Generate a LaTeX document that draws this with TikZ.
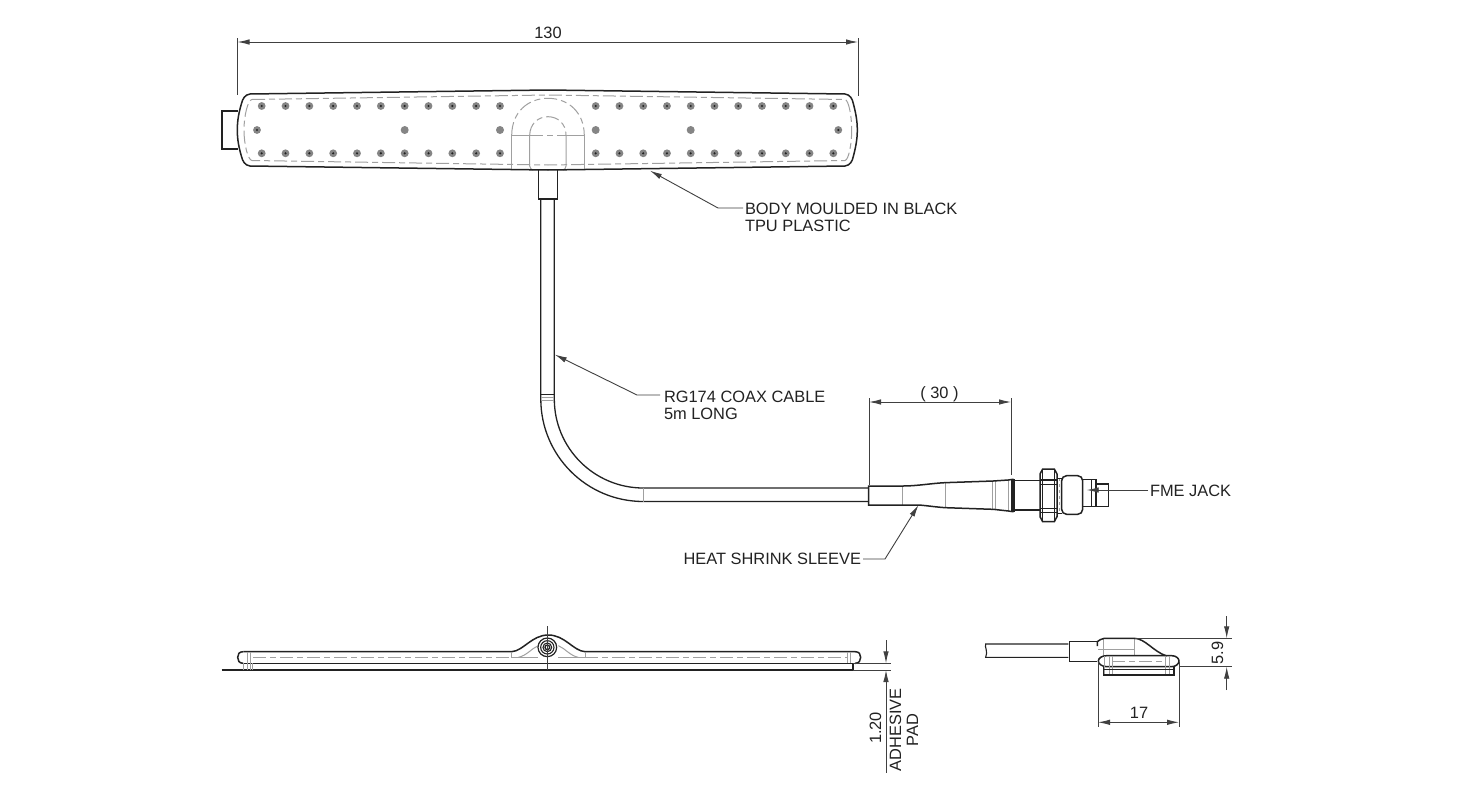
\documentclass[tikz,border=0pt]{standalone}
\usepackage{fontspec}
\setmainfont{Liberation Sans}
\usetikzlibrary{arrows.meta,calc}
\definecolor{ink}{HTML}{222222}
\definecolor{soft}{HTML}{A0A0A0}
\definecolor{dimc}{HTML}{404040}
\definecolor{dotc}{HTML}{858585}
\tikzset{
  lbl/.style={font=\fontsize{16.4}{17}\selectfont,text=ink,inner sep=0pt,outer sep=0pt,align=left},
  outline/.style={draw=ink,line width=1.5pt},
  thin line/.style={draw=ink,line width=1.1pt},
  hidden/.style={draw=soft,line width=1pt,dash pattern=on 13pt off 4pt on 6pt off 4pt},
  faint/.style={draw=soft,line width=1pt},
  ext/.style={draw=dimc,line width=0.9pt},
  dimarrow/.style={ext,{Latex[length=12pt,width=5.5pt]}-{Latex[length=12pt,width=5.5pt]}},
  onearrow/.style={ext,-{Latex[length=12pt,width=5.5pt]}},
  zoomed/.style={x=0.33333pt,y=-0.33333pt},
}
\begin{document}
\begin{tikzpicture}[x=1pt,y=-1pt]
\useasboundingbox (0,0) rectangle (1476,806);
\fill[white] (0,0) rectangle (1476,806);

% ---- plan view body
\draw[thin line] (237.6,111) -- (222,111) -- (222,149) -- (237.6,149);
\draw[faint] (511.7,135) -- (511.7,170) (584.3,135) -- (584.3,170);
\draw[faint] (529.7,135) -- (529.7,166) .. controls (530,168) and (531,169.5) .. (533,170);
\draw[faint] (566,135) -- (566,166) .. controls (565.7,168) and (565,169.5) .. (563,170);
\draw[faint] (511.7,135) -- (529.7,135) (566,135) -- (584.3,135);
\draw[hidden] (530,135) -- (566,135);
\draw[hidden] (511.7,135) .. controls (512,112) and (528,98.3) .. (548,98.3) .. controls (568,98.3) and (584,112) .. (584.3,135);
\draw[hidden] (529.7,135) .. controls (530,124) and (538,116.7) .. (548,116.7) .. controls (558,116.7) and (566,124) .. (566,135);
\draw[hidden] (252,99.5) -- (548,95) -- (845,99.5) .. controls (848.5,100) and (851.7,115) .. (851.7,130)
   .. controls (851.7,145) and (848.5,160) .. (845,160.5) -- (548,165) -- (252,160.5)
   .. controls (248,160) and (244,145) .. (244,130) .. controls (244,115) and (248,100) .. (252,99.5);
\draw[outline] (250,94) -- (548,90) -- (845,94) .. controls (850,94.5) and (852.5,99) .. (853.3,103.5)
   .. controls (855.5,112) and (857.3,120) .. (857.3,130) .. controls (857.3,140) and (855.5,148) .. (853.3,156.5)
   .. controls (852.5,161) and (850,165.5) .. (845,166) -- (548,170) -- (250,166)
   .. controls (245,165.5) and (242.5,161) .. (241.5,156.5) .. controls (239,148) and (237.3,140) .. (237.3,130)
   .. controls (237.3,120) and (239,112) .. (241.5,103.5) .. controls (242.5,99) and (245,94.5) .. (250,94) -- cycle;
% dots
\foreach \n in {0,...,10}{
  \foreach \y in {106,153.3}{
    \fill[dotc] ({261.7+23.83*\n},\y) circle (3.9);
    \fill[ink] ({261.7+23.83*\n},\y) circle (1.2);
    \fill[dotc] ({595.7+23.76*\n},\y) circle (3.9);
    \fill[ink] ({595.7+23.76*\n},\y) circle (1.2);
  }
}
\foreach \x in {257,838.3}{
  \fill[dotc] (\x,130) circle (3.9);
  \fill[ink] (\x,130) circle (1.2);
}
\foreach \x in {404.7,500,595.7,690.7}{
  \fill[dotc] (\x,130) circle (4);
}
% neck and cable
\draw[outline] (538.3,170.3) -- (538.3,199) -- (557.3,199) -- (557.3,170.3);
\draw[thin line,line width=1.3pt] (540.8,199) -- (540.8,399) arc[start angle=180,end angle=90,radius=102.5] -- (868.7,501.5);
\draw[thin line,line width=1.3pt] (554.3,199) -- (554.3,399) arc[start angle=180,end angle=90,radius=89] -- (868.7,488);
\draw[thin line] (540.8,394.3) -- (554.3,394.3);
\draw[faint] (540.8,397) -- (554.3,397) (540.8,400) -- (554.3,400);
\draw[faint] (643.3,488) -- (643.3,501.5);

% ---- connector (coordinates taken at 3x from corner 860,450)
\begin{scope}[shift={(860,450)},zoomed]
  \draw[faint] (128,108) -- (128,165) (255,100) -- (255,173) (397,93) -- (397,178) (407,93) -- (407,179) (445,90) -- (445,183);
  \draw[outline] (26,108) -- (130,108) .. controls (170,108) and (215,100) .. (255,98) -- (400,93) -- (445,90) -- (458,88)
     -- (458,185) -- (445,183) -- (400,178) -- (255,173) .. controls (215,170) and (190,165) .. (170,165) -- (26,165) -- cycle;
  \foreach \x in {455,458,461,464}{\draw[ink,line width=1pt] (\x,88) -- (\x,185);}
  \draw[thin line] (465,92) -- (540,92) (465,180) -- (540,180);
  \draw[outline] (540,72) -- (548,57) -- (583,57) -- (591,72) -- (591,200) -- (583,215) -- (548,215) -- (540,200) -- cycle;
  \draw[thin line] (540,90) -- (591,90) (548,57) -- (548,215) (583,57) -- (583,215) (540,103) -- (591,103) (540,175) -- (591,175) (540,187) -- (591,187);
  \draw[faint,dashed] (597,85) -- (597,190);
  \draw[thin line] (591,85) -- (605,85) (591,190) -- (605,190);
  \draw[outline,rounded corners=5pt] (605,77) rectangle (668,193);
  \draw[thin line] (668,88) -- (708,88) -- (708,170) -- (668,170) (695,88) -- (695,170);
  \draw[thin line] (708,102) -- (745,102) -- (745,170) -- (708,170);
\end{scope}

% ---- side view, long
\begin{scope}[shift={(215,625)},zoomed]
  \draw[line width=1.8pt,ink] (20,135) -- (1914,135);
  \draw[line width=1.5pt,ink] (85,115) -- (1920,115);
  \draw[outline] (85,80) .. controls (72,80) and (68,88) .. (68,97) .. controls (68,106) and (72,115) .. (85,115);
  \draw[outline] (1920,80) .. controls (1933,80) and (1937,88) .. (1937,97) .. controls (1937,106) and (1933,115) .. (1920,115);
  \draw[outline] (85,80) -- (890,80) .. controls (925,78) and (950,30) .. (1000,30) .. controls (1050,30) and (1075,78) .. (1110,80) -- (1920,80);
  \draw[faint] (96,80) -- (96,135) (105,80) -- (105,135) (112,115) -- (112,135) (1897,80) -- (1897,115) (1908,80) -- (1908,115);
  \draw[faint] (84,115) -- (84,135);
  \draw[thin line] (1914,115) -- (1914,135);
  \draw[faint] (890,80) -- (890,97) -- (970,97) (1030,97) -- (1110,97) -- (1110,80);
  \draw[faint] (910,97) .. controls (935,92) and (950,70) .. (970,62) (1090,97) .. controls (1065,92) and (1050,70) .. (1030,62);
  \draw[hidden] (115,97) -- (890,97) (1110,97) -- (1895,97);
  \fill[white] (997,67) circle (27);
  \draw[ink,line width=1.2pt] (997,67) circle (28);
  \draw[ink,line width=1.1pt] (997,67) circle (20);
  \draw[ink,line width=1.1pt] (997,67) circle (13);
  \draw[ink,line width=1.3pt] (997,67) circle (7);
  \draw[ext] (997,3) -- (997,135);
\end{scope}

% ---- side view, end
\begin{scope}[shift={(975,610)},zoomed]
  \draw[thin line] (280,102) -- (32,102) .. controls (28,110) and (40,125) .. (32,142) -- (280,142);
  \draw[outline] (367,95) -- (283,95) -- (283,155) -- (367,155);
  \draw[faint] (385,85) -- (385,137) (478,85) -- (478,137) (370,117) -- (478,117);
  \draw[outline] (367,108) -- (367,95) .. controls (373,92) and (378,85) .. (388,85) -- (478,85)
     .. controls (510,85) and (535,125) .. (575,138);
  \draw[outline] (395,137) -- (590,137) .. controls (603,137) and (612,145) .. (612,153) .. controls (612,161) and (603,170) .. (590,170)
     -- (395,170) .. controls (380,170) and (370,161) .. (370,153) .. controls (370,145) and (380,137) .. (395,137) -- cycle;
  \draw[faint] (388,137) -- (388,195) (403,137) -- (403,195) (412,137) -- (412,195) (570,137) -- (570,195) (582,137) -- (582,195);
  \draw[hidden] (412,155) -- (570,155);
  \draw[thin line] (385,170) -- (385,195) -- (597,195) -- (597,170);
  \draw[ink,line width=1.6pt] (385,178) -- (597,178);
\end{scope}

% ---- texts
\node[lbl,anchor=base] (d130) at (548,38) {130};
\node[lbl,anchor=base] (d30) at (939.5,398) {( 30 )};
\node[lbl,anchor=north west] (body) at (745,203.5) {BODY MOULDED IN BLACK\\TPU PLASTIC};
\node[lbl,anchor=north west] (coax) at (664,391) {RG174 COAX CABLE\\5m LONG};
\node[lbl,anchor=west] (fme) at (1150,491) {FME JACK};
\node[lbl,anchor=east] (sleeve) at (861,559) {HEAT SHRINK SLEEVE};
\node[lbl,anchor=base,rotate=90] (d120) at (881,728) {1.20};
\node[lbl,anchor=center,rotate=90,align=center] (pad) at (904,730) {ADHESIVE\\PAD};
\node[lbl,anchor=base,rotate=90] (d59) at (1223,653) {5.9};
\node[lbl,anchor=base] (d17) at (1139,718) {17};

% ---- leaders
\coordinate (bodytip) at (650,170.7);
\coordinate (bodyknee) at (718,208);
\draw[onearrow] ($(body.north west)+(-2,4.5)$) -- (bodyknee) -- (bodytip);
\coordinate (coaxtip) at (554.8,354.6);
\coordinate (coaxknee) at (637,395);
\draw[onearrow] ($(coax.north west)+(-4,4)$) -- (coaxknee) -- (coaxtip);
\coordinate (fmetip) at (1086.7,490);
\draw[onearrow] ($(fme.west)+(-2,-1)$) -- (fmetip);
\coordinate (sleevetip) at (918.5,505);
\coordinate (sleeveknee) at (885,559);
\draw[onearrow] ($(sleeve.east)+(2,0)$) -- (sleeveknee) -- (sleevetip);

% ---- dimensions
\coordinate (aL) at (237.5,42); \coordinate (aR) at (858,42);
\draw[ext] (237.5,38) -- (237.5,95) (858,38) -- (858,96);
\draw[dimarrow] (aL) -- (aR);
\coordinate (bL) at (869,402); \coordinate (bR) at (1011,402);
\draw[ext] (869,398) -- (869,485) (1011,398) -- (1011,475);
\draw[dimarrow] (bL) -- (bR);
\coordinate (cT) at (886,663.3); \coordinate (cB) at (886,670);
\draw[ext] (853,663.3) -- (891,663.3) (853,670) -- (891,670);
\coordinate (cTo) at (886,640); \coordinate (cBo) at (886,772.7);
\draw[onearrow] (cTo) -- (cT);
\draw[onearrow] (cBo) -- (cB);
\coordinate (eT) at (1226.7,638.3); \coordinate (eB) at (1226.7,666.7);
\coordinate (eTo) at (1226.7,616); \coordinate (eBo) at (1226.7,690);
\draw[ext] (1135,638.3) -- (1232,638.3) (1179,666.7) -- (1232,666.7);
\draw[onearrow] (eTo) -- (eT);
\draw[onearrow] (eBo) -- (eB);
\coordinate (fL) at (1098,722.3); \coordinate (fR) at (1179,722.3);
\draw[ext] (1098,662) -- (1098,727) (1179,662) -- (1179,727);
\draw[dimarrow] (fL) -- (fR);
\end{tikzpicture}
\end{document}
